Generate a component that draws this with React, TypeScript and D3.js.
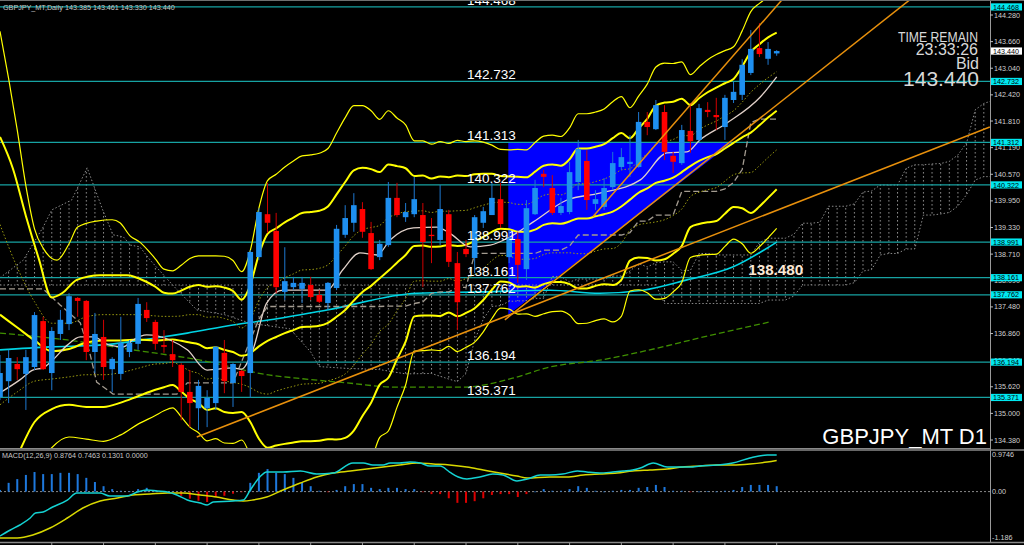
import React from 'react';
import * as d3 from 'd3';

type P = [number, number];
type C3 = [number, number, number];

// ---- Daily candles (GBPJPY_MT, D1) ----
const opens = [135.38,135.75,136.15,135.92,136.08,137.15,135.94,136.85,137.08,137.69,137.62,136.43,136.78,136.03,135.92,136.43,136.62,137.41,137.13,136.59,136.38,136.13,135.50,135.12,135.12,135.24,136.41,135.71,135.99,135.94,138.64,139.64,139.25,137.83,137.94,137.90,137.99,137.76,137.57,137.92,139.16,139.44,139.76,139.20,138.64,138.92,140.02,139.57,139.64,139.62,139.16,139.04,139.64,138.50,138.83,138.62,139.44,139.62,139.99,138.64,139.06,138.36,139.64,140.58,140.25,139.67,139.69,140.39,140.88,139.88,139.81,140.27,140.74,140.81,140.74,141.79,141.62,142.02,141.00,140.83,141.58,141.37,142.07,141.95,141.67,142.30,142.42,142.93,143.51,143.26,143.385];
const highs = [136.36,136.48,136.31,136.48,137.36,137.25,137.01,137.41,137.80,137.71,137.64,137.34,137.18,136.31,137.25,136.71,137.69,137.59,137.18,136.94,136.71,136.17,136.01,135.78,135.54,136.57,136.71,136.17,136.01,138.80,139.78,140.37,139.67,138.87,138.18,138.18,138.18,137.87,138.06,139.39,139.85,140.13,139.92,139.46,139.04,140.39,140.37,139.90,140.51,139.90,139.55,140.32,139.74,138.76,139.04,139.62,139.81,140.37,140.37,139.27,139.23,139.97,140.44,140.67,140.55,140.02,140.86,141.37,141.13,140.20,140.48,141.09,141.18,141.48,142.02,142.02,142.30,142.18,141.09,141.72,142.23,142.21,142.25,142.35,142.42,142.72,143.25,143.93,144.09,143.65,143.461];
const lows = [135.31,135.24,135.78,135.08,136.01,136.01,135.54,136.71,136.94,137.25,136.24,135.94,135.78,135.50,135.78,136.31,136.48,137.13,136.48,136.41,136.08,134.84,134.68,134.61,134.68,135.08,135.47,135.15,135.50,135.36,138.57,139.20,137.80,137.64,137.87,137.57,137.64,137.57,137.41,137.87,139.09,139.23,139.09,138.34,138.57,138.88,139.57,139.46,139.57,137.94,138.50,138.92,138.41,136.94,138.64,138.27,139.32,139.62,139.32,138.50,138.04,138.11,139.62,140.27,139.62,139.62,139.64,140.20,139.74,139.74,139.74,140.20,140.67,140.51,140.72,141.48,141.60,140.90,140.60,140.79,141.07,141.34,141.90,141.60,141.37,142.23,142.30,142.88,143.30,143.12,143.330];
const closes = [135.94,136.29,136.03,136.31,137.29,136.03,136.92,137.18,137.73,137.62,136.43,136.85,136.08,136.27,136.64,136.64,137.55,137.22,136.62,136.55,136.24,135.50,135.24,135.64,135.36,136.55,135.75,136.15,135.87,138.76,139.69,139.44,137.94,138.08,138.04,138.04,137.71,137.60,138.04,139.30,139.55,139.85,139.23,138.36,138.95,140.02,139.62,139.69,139.99,138.99,139.13,139.76,138.53,137.59,138.71,139.57,139.71,140.02,139.41,139.09,138.46,139.78,140.25,140.51,139.67,139.83,140.62,141.16,139.97,139.99,140.25,140.83,140.97,140.86,141.79,141.67,142.18,141.09,140.86,141.60,141.34,142.11,142.02,141.90,142.35,142.49,143.12,143.49,143.37,143.49,143.440];

// ---- Bollinger band lines as seen on the chart ----
// left part: [bar index, price]; from bar 19 on: one value per bar
const bbFrom = 19;
const bbMidL: P[] = [[0,137.3],[2,137.0],[4,136.7],[6,136.45],[8,136.5],[10,136.65],[12,136.7],[14,136.7],[16,136.72],[18,136.7]];
const bbMidR = [136.71,136.72,136.69,136.65,136.61,136.52,136.54,136.48,136.43,136.34,136.40,136.56,136.69,136.78,136.87,136.94,137.01,137.02,137.04,137.11,137.25,137.41,137.63,137.83,137.97,138.15,138.32,138.51,138.69,138.90,138.91,138.88,138.89,138.92,138.90,138.93,139.01,139.11,139.23,139.30,139.29,139.23,139.23,139.28,139.39,139.43,139.42,139.47,139.54,139.54,139.59,139.64,139.70,139.82,139.98,140.14,140.24,140.37,140.42,140.49,140.62,140.76,140.88,140.97,141.04,141.17,141.30,141.43,141.54,141.71,141.89,142.05];
const bbUp1L: P[] = [[0,139.4],[2,138.4],[4,137.6],[6,137.1],[8,137.1],[10,137.25],[12,137.3],[14,137.3],[16,137.3],[18,137.27]];
const bbUp1R = [137.26,137.26,137.27,137.30,137.30,137.24,137.25,137.21,137.14,136.99,137.19,137.63,137.93,138.04,138.16,138.25,138.34,138.35,138.38,138.46,138.67,138.90,139.14,139.28,139.33,139.38,139.56,139.64,139.70,139.71,139.72,139.68,139.71,139.71,139.72,139.73,139.79,139.85,139.90,139.92,139.91,139.87,139.87,139.96,140.08,140.11,140.09,140.19,140.35,140.35,140.40,140.46,140.55,140.67,140.70,140.89,141.05,141.27,141.33,141.38,141.47,141.47,141.61,141.72,141.81,141.93,142.05,142.25,142.48,142.66,142.82,142.96];
const bbUp2L: P[] = [[0,141.44],[1.5,140.7],[3,139.6],[4.5,138.6],[6,137.7],[7.2,137.8],[8.9,138.11],[11.6,138.22],[14.7,138.22],[17,138.06],[18,137.95]];
const bbUp2R = [137.81,137.79,137.86,137.95,137.99,137.95,137.96,137.93,137.85,137.65,137.99,138.70,139.18,139.31,139.45,139.56,139.67,139.69,139.72,139.82,140.10,140.39,140.66,140.72,140.69,140.62,140.80,140.76,140.71,140.53,140.54,140.47,140.52,140.50,140.54,140.53,140.57,140.58,140.58,140.53,140.52,140.51,140.50,140.63,140.77,140.80,140.77,140.92,141.17,141.17,141.21,141.27,141.41,141.53,141.41,141.64,141.86,142.17,142.24,142.26,142.33,142.18,142.34,142.48,142.59,142.69,142.79,143.08,143.42,143.60,143.76,143.87];
const bbUp3L: P[] = [[0,143.9],[1,142.8],[2,141.6],[3,140.3],[4,139.3],[5,138.85],[6.6,138.57],[8,138.95],[9,139.34],[11.2,139.48],[13,139.51],[13.9,139.44],[15.1,139.13],[16.2,138.99],[17.1,138.81],[18,138.6]];
const bbUp3R = [138.36,138.32,138.45,138.61,138.67,138.67,138.67,138.66,138.56,138.30,138.79,139.78,140.42,140.57,140.74,140.88,141.00,141.02,141.06,141.17,141.53,141.89,142.17,142.17,142.05,141.85,142.05,141.88,141.72,141.35,141.35,141.27,141.33,141.29,141.36,141.33,141.35,141.32,141.25,141.15,141.14,141.15,141.14,141.31,141.46,141.48,141.45,141.65,141.98,141.98,142.02,142.09,142.26,142.38,142.12,142.39,142.67,143.07,143.16,143.15,143.19,142.89,143.07,143.24,143.36,143.45,143.54,143.91,144.36,144.55,144.69,144.78];
const bbDn1L: P[] = [[0,135.2],[2,135.5],[4,135.75],[6,135.8],[8,135.85],[10,135.9],[12,135.9],[14,135.95],[16,136.05],[18,136.15]];
const bbDn1R = [136.16,136.19,136.10,135.99,135.93,135.80,135.83,135.76,135.72,135.68,135.60,135.49,135.45,135.52,135.58,135.63,135.68,135.69,135.70,135.76,135.82,135.92,136.12,136.38,136.61,136.91,137.08,137.39,137.68,138.08,138.09,138.08,138.08,138.14,138.08,138.14,138.23,138.37,138.56,138.68,138.67,138.59,138.59,138.61,138.70,138.74,138.74,138.74,138.72,138.72,138.78,138.83,138.84,138.97,139.27,139.39,139.43,139.46,139.51,139.61,139.76,140.05,140.15,140.21,140.26,140.41,140.56,140.60,140.61,140.77,140.96,141.14];
const bbDn2L: P[] = [[0,133.1],[2,134.0],[4,134.8],[6,135.1],[8,135.2],[10,135.15],[12,135.15],[14,135.25],[16,135.4],[18,135.55]];
const bbDn2R = [135.61,135.66,135.51,135.34,135.24,135.08,135.12,135.03,135.01,135.03,134.80,134.41,134.20,134.25,134.29,134.32,134.35,134.35,134.36,134.40,134.39,134.43,134.60,134.94,135.25,135.67,135.83,136.26,136.67,137.26,137.28,137.28,137.27,137.35,137.26,137.34,137.45,137.64,137.88,138.07,138.05,137.95,137.96,137.93,138.01,138.06,138.06,138.01,137.91,137.91,137.97,138.01,137.99,138.11,138.56,138.63,138.62,138.56,138.59,138.72,138.90,139.34,139.41,139.45,139.48,139.65,139.81,139.78,139.67,139.82,140.02,140.22];
const bbDn3L: P[] = [[0,131.0],[2,132.4],[4,133.6],[6,134.2],[8,134.45],[10,134.4],[12,134.35],[14,134.5],[16,134.75],[18,134.95]];
const bbDn3R = [135.06,135.13,134.92,134.68,134.55,134.36,134.41,134.31,134.30,134.38,134.00,133.34,132.96,132.99,133.01,133.01,133.02,133.02,133.02,133.05,132.97,132.94,133.09,133.49,133.89,134.44,134.59,135.14,135.66,136.45,136.46,136.48,136.46,136.56,136.44,136.54,136.66,136.90,137.21,137.45,137.43,137.31,137.32,137.26,137.32,137.37,137.38,137.29,137.09,137.10,137.16,137.20,137.13,137.26,137.85,137.88,137.81,137.66,137.68,137.83,138.05,138.63,138.68,138.70,138.71,138.89,139.06,138.95,138.73,138.88,139.09,139.31];

// ---- Other indicator lines: [bar index, price] ----
const sma9: P[] = [[0,135.48],[2.3,135.78],[3.8,136.01],[5,136.06],[6.1,136.24],[7.8,136.59],[9.3,136.78],[10.8,136.78],[12.7,136.59],[14.3,136.55],[15.4,136.71],[17,136.83],[19.7,136.71],[21.7,136.48],[24,136.01],[27,136.06],[28,136.03],[29.3,136.48],[30.9,137.57],[32.8,137.87],[37.9,137.87],[39.7,138.34],[41.7,138.74],[43.7,138.69],[45.2,139.04],[47.9,139.32],[50.6,139.34],[52.1,139.2],[54.5,138.88],[56.8,138.92],[59.1,139.11],[61.8,139.46],[65.7,139.97],[69.5,140.13],[74.2,140.44],[77.3,141.07],[79.6,141.09],[81.1,141.37],[84.2,141.76],[88.1,142.37],[90,142.84]];
const kijun: P[] = [[0,137.9],[5,137.9],[7,137.52],[9.3,137.11],[10.4,136.41],[11.2,135.73],[13.1,135.45],[20.5,135.45],[21.7,135.71],[27,135.71],[28,136.205],[29,136.705],[30,137.195],[31,137.49],[44,137.49],[45,137.50],[47,137.50],[48,137.56],[49,137.595],[50,137.795],[51,137.83],[52,137.83],[53,137.935],[54,137.935],[55,138.725],[62,138.725],[63,138.805],[65,138.805],[66,138.90],[67,139.155],[72,139.155],[73,139.21],[74,139.48],[75,139.48],[76,139.62],[78,139.62],[79,140.17],[83,140.17],[84,140.23],[85,140.38],[86,140.68],[87,141.775],[88,141.855],[90,141.855]];
const cyanMA: P[] = [[0,136.48],[5.8,136.55],[11.6,136.59],[18.2,136.76],[21.7,136.87],[27,137.06],[31.3,137.18],[37.9,137.41],[48.3,137.8],[56,137.83],[63.7,137.87],[69.5,137.8],[74.5,137.87],[79.6,138.11],[84.9,138.41],[90,138.99]];
const greenMA: P[] = [[0,136.87],[7.8,136.71],[15.4,136.48],[23.2,136.24],[31.3,135.89],[34.4,135.82],[40.2,135.71],[46,135.61],[53.7,135.61],[59.4,135.82],[63.7,136.08],[69.5,136.24],[75.3,136.48],[81.1,136.76],[89.2,137.13]];
// Ichimoku cloud: [bar index, span A, span B]
const cloud: C3[] = [[0,138.16,137.99],[2.7,138.57,137.99],[5,139.34,137.99],[6,139.74,137.99],[8.3,139.97,137.99],[10.1,140.72,137.99],[11.9,139.74,137.99],[13.1,139.16,137.99],[14.3,139.11,137.99],[15.1,138.92,137.99],[16.2,138.88,137.99],[17.4,138.57,137.99],[20,137.99,137.99],[22.8,137.41,137.99],[26,137.3,137.99],[29,137.1,137.99],[33.6,136.97,137.99],[36,136.43,137.99],[37,136.09,137.99],[40,136.05,137.99],[44,136.02,137.99],[47,135.92,137.99],[50,135.93,137.99],[52,135.80,137.99],[53,135.74,137.99],[54,135.93,137.99],[55,136.705,137.99],[56,137.195,137.99],[57,137.49,137.99],[58,137.51,137.99],[59,137.61,137.99],[61,137.625,137.99],[62,137.68,137.99],[63,137.68,137.99],[64,138.19,137.99],[65,138.19,137.99],[66,138.06,137.99],[67,138.13,137.99],[70,138.13,137.99],[71,138.20,137.99],[72,138.20,137.99],[73,138.315,137.99],[74,138.49,137.99],[75,138.41,137.99],[76,138.51,137.99],[77,138.53,137.56],[78,138.53,137.56],[79,138.33,137.56],[80,138.33,137.56],[81,138.725,137.56],[82,138.725,137.56],[83,138.69,137.56],[87,138.69,137.56],[88,138.98,137.56],[89,139.08,137.64],[91,139.08,137.64],[92,139.175,137.735],[93,139.43,137.99],[94,139.43,137.99],[95,139.45,137.99],[96,139.825,137.99],[98,139.825,137.99],[99,139.88,138.045],[100,140.155,138.315],[101,140.18,138.35],[102,140.32,138.69],[103,140.32,138.725],[104,140.32,138.725],[105,140.71,138.83],[106,140.79,138.83],[107,140.79,139.62],[108,140.81,139.62],[109,140.82,139.645],[110,140.87,139.68],[111,141.02,139.83],[112,141.30,140.095],[113,142.07,140.435],[114,142.22,140.515],[115,142.285,140.515],[116,142.29,140.515]];

// ---- MACD(12,26,9) ----
const macdMain: P[] = [[0,-1.066],[1.2,-0.922],[2.3,-0.802],[3.5,-0.634],[4.1,-0.514],[5,-0.49],[6.1,-0.37],[7.8,-0.202],[8.9,-0.034],[11.6,-0.034],[12.7,-0.106],[14.7,-0.106],[15.9,-0.01],[17,0.038],[18.2,0.014],[19.4,-0.01],[20.5,-0.082],[21.7,-0.202],[23.2,-0.274],[24,-0.322],[24.7,-0.25],[27,-0.226],[28.2,-0.202],[29,0.038],[30.1,0.35],[30.9,0.47],[32.8,0.47],[34.8,0.494],[36.7,0.422],[38.6,0.446],[40.9,0.686],[42.1,0.686],[43.2,0.638],[44.4,0.638],[45.2,0.686],[46.3,0.686],[47.5,0.71],[48.7,0.686],[49.8,0.614],[51,0.614],[52.1,0.47],[53.1,0.35],[54.1,0.302],[55.6,0.35],[57.1,0.422],[58.3,0.398],[59.9,0.254],[61.1,0.302],[62.6,0.398],[63.7,0.398],[65.2,0.422],[66.9,0.494],[68,0.47],[69.5,0.446],[71,0.47],[72.2,0.494],[73.3,0.518],[74.2,0.566],[75.7,0.686],[77.3,0.59],[78.4,0.59],[80,0.59],[81.1,0.614],[83.1,0.638],[84.9,0.686],[86.9,0.806],[88.9,0.878],[90,0.876]];
const macdSignal: P[] = [[0,-1.114],[2,-1.114],[3.8,-1.042],[5.8,-0.874],[7.8,-0.634],[9.6,-0.394],[11.6,-0.226],[13.6,-0.154],[15.4,-0.082],[17.4,-0.058],[19.4,-0.034],[21.2,-0.034],[23.2,-0.082],[25.1,-0.13],[27,-0.202],[28.2,-0.226],[29.3,-0.202],[30.9,-0.13],[32.8,0.038],[34.8,0.206],[36.7,0.35],[38.6,0.446],[40.6,0.494],[42.5,0.542],[44.4,0.59],[46.3,0.638],[48.3,0.686],[50.2,0.662],[52.1,0.638],[54.1,0.59],[56,0.518],[57.9,0.446],[59.9,0.374],[61.1,0.326],[63.7,0.35],[65.7,0.35],[67.6,0.398],[69.5,0.422],[71.5,0.446],[73.3,0.494],[75.3,0.518],[77.3,0.542],[79.1,0.59],[81.1,0.614],[83.1,0.638],[84.9,0.638],[86.9,0.662],[88.9,0.71],[90,0.746]];
const macdHist = [0.04,0.21,0.30,0.40,0.47,0.42,0.42,0.45,0.45,0.42,0.33,0.23,0.13,0.06,0.02,0.01,0.06,0.09,0.04,0.0,0.0,-0.10,-0.17,-0.22,-0.25,-0.13,-0.10,-0.05,-0.01,0.21,0.45,0.54,0.45,0.42,0.33,0.23,0.13,0.02,-0.01,0.04,0.13,0.18,0.18,0.09,0.06,0.09,0.09,0.06,0.06,-0.01,-0.06,-0.06,-0.16,-0.27,-0.27,-0.23,-0.16,-0.08,-0.06,-0.06,-0.13,-0.06,0.0,0.06,0.02,0.02,0.06,0.13,0.09,0.02,0.0,0.02,0.04,0.04,0.09,0.11,0.16,0.11,0.02,0.02,-0.01,0.0,0.01,0.0,0.02,0.04,0.11,0.16,0.16,0.16,0.13];

// ---- Drawn objects ----
const hLevels = [144.468, 142.732, 141.312, 140.322, 138.991, 138.161, 137.762, 136.194, 135.371];
const hLabels = ['144.468', '142.732', '141.313', '140.322', '138.991', '138.161', '137.762', '136.194', '135.371'];
const axisTicks = ['144.280','143.660','143.040','142.420','141.810','141.190','140.570','139.950','139.330','138.710','138.090','137.480','136.860','136.240','135.620','135.000','134.380'];
const trendLines: [P, P][] = [
  [[22.8, 134.45], [114.7, 141.67]],
  [[58.5, 137.18], [105.4, 144.63]],
  [[68.7, 139.58], [90.6, 144.63]],
];
const triangle: P[] = [[58.9, 141.312], [84.9, 141.312], [58.9, 137.30]];
const bidPrice = 143.440;
const maLabel = '138.480';
const maLabelAt: P = [86.7, 138.34];
const macdTicks = ['0.9746', '0.00', '-1.186'];
const macdTickVals = [0.9746, 0, -1.186];

const join = (L: P[], R: number[]): P[] => [...L, ...R.map((v, k) => [bbFrom + k, v] as P)];

export default function App() {
  const W = 1024, H = 545, R = 990;
  const x = d3.scaleLinear().domain([0, 90]).range([0, 776.7]);
  const y = d3.scaleLinear().domain([134.38, 144.28]).range([440, 15]);
  const ym = d3.scaleLinear().domain([-1.186, 0.9746]).range([541, 451]);
  const path = (pts: P[], curve: any = d3.curveMonotoneX) =>
    d3.line<P>().x(d => x(d[0])).y(d => y(d[1])).curve(curve)(pts) || '';
  const mpath = (pts: P[]) =>
    d3.line<P>().x(d => x(d[0])).y(d => ym(d[1])).curve(d3.curveMonotoneX)(pts) || '';
  const cloudArea = d3.area<C3>().x(d => x(d[0])).y0(d => y(d[1])).y1(d => y(d[2])).curve(d3.curveLinear)(cloud) || '';
  const spanA = path(cloud.map(d => [d[0], d[1]] as P), d3.curveLinear);
  const spanB = path(cloud.map(d => [d[0], d[2]] as P), d3.curveLinear);
  const step = x(1) - x(0);
  const bw = 5.6;
  const font = 'Liberation Sans, Arial, sans-serif';
  const sm = 7.2;

  const lines = {
    mid: join(bbMidL, bbMidR), up1: join(bbUp1L, bbUp1R), dn1: join(bbDn1L, bbDn1R),
    up2: join(bbUp2L, bbUp2R), dn2: join(bbDn2L, bbDn2R), up3: join(bbUp3L, bbUp3R), dn3: join(bbDn3L, bbDn3R),
  };

  return (
    <svg width={W} height={H} style={{ position: 'fixed', left: 0, top: 0, background: '#000' }}>
      <defs>
        <clipPath id="mainclip"><rect x={0} y={1} width={R} height={447} /></clipPath>
        <clipPath id="macdclip"><rect x={0} y={451} width={R} height={91} /></clipPath>
        <pattern id="hatch" patternUnits="userSpaceOnUse" width={step} height={4} x={-0.5} y={0}>
          <rect x={0} y={0} width={1} height={1.6} fill="#8a8a8a" />
        </pattern>
      </defs>
      <rect x={0} y={0} width={W} height={H} fill="#000" />

      <g clipPath="url(#mainclip)">
        <polygon points={triangle.map(d => `${x(d[0])},${y(d[1])}`).join(' ')} fill="#0000ff" />
        <path d={cloudArea} fill="url(#hatch)" />
        <path d={spanA} fill="none" stroke="#8a8a8a" strokeWidth={1} strokeDasharray="1.5,2" />
        <path d={spanB} fill="none" stroke="#8a8a8a" strokeWidth={1} strokeDasharray="1.5,2" />
        {hLevels.map((v, i) => (
          <line key={'h' + i} x1={0} x2={R} y1={y(v)} y2={y(v)} stroke="#17a2a2" strokeWidth={1.3} />
        ))}
        <path d={path(greenMA)} fill="none" stroke="#3f8f00" strokeWidth={1.3} strokeDasharray="6,3" />
        <path d={path(cyanMA)} fill="none" stroke="#00d4e4" strokeWidth={1.6} />
        <path d={path(kijun, d3.curveLinear)} fill="none" stroke="#a39b90" strokeWidth={1.3} strokeDasharray="6,3" />
        <path d={path(lines.up1)} fill="none" stroke="#9a9a10" strokeWidth={1} strokeDasharray="1.5,2" />
        <path d={path(lines.dn1)} fill="none" stroke="#9a9a10" strokeWidth={1} strokeDasharray="1.5,2" />
        <path d={path(lines.up3)} fill="none" stroke="#ffff00" strokeWidth={1.2} />
        <path d={path(lines.dn3)} fill="none" stroke="#ffff00" strokeWidth={1.2} />
        <path d={path(lines.up2)} fill="none" stroke="#ffff00" strokeWidth={2} />
        <path d={path(lines.dn2)} fill="none" stroke="#ffff00" strokeWidth={2} />
        <path d={path(lines.mid)} fill="none" stroke="#ffff00" strokeWidth={2} />
        <path d={path(sma9)} fill="none" stroke="#e0d0c8" strokeWidth={1.3} />
        {opens.map((o, i) => {
          const c = closes[i];
          const up = c >= o;
          const col = up ? '#1e8ff0' : '#ff0000';
          const cx = x(i);
          const top = y(Math.max(o, c));
          const bot = y(Math.min(o, c));
          return (
            <g key={'c' + i}>
              <line x1={cx} x2={cx} y1={y(highs[i])} y2={y(lows[i])} stroke={up ? '#1e78d0' : '#d00000'} strokeWidth={1} />
              <rect x={cx - bw / 2} y={top} width={bw} height={Math.max(1, bot - top)} fill={col} />
            </g>
          );
        })}
        {trendLines.map((t, i) => (
          <line key={'t' + i} x1={x(t[0][0])} y1={y(t[0][1])} x2={x(t[1][0])} y2={y(t[1][1])} stroke="#e8900c" strokeWidth={1.5} />
        ))}
        {hLevels.map((v, i) => (
          <text key={'hl' + i} x={467} y={y(v) - 2} fill="#ffffff" fontFamily={font} fontSize={13.5}>{hLabels[i]}</text>
        ))}
        <text x={x(maLabelAt[0])} y={y(maLabelAt[1]) + 5} fill="#fde8d4" fontFamily={font} fontSize={15.5} fontWeight="bold" textLength={55} lengthAdjust="spacingAndGlyphs">{maLabel}</text>
        <text x={898} y={42} fill="#d8d8d8" fontFamily={font} fontSize={15.5} textLength={80} lengthAdjust="spacingAndGlyphs">TIME REMAIN</text>
        <text x={978} y={55} fill="#d8d8d8" fontFamily={font} fontSize={16} textAnchor="end">23:33:26</text>
        <text x={979} y={68.5} fill="#d8d8d8" fontFamily={font} fontSize={16} textAnchor="end">Bid</text>
        <text x={979} y={86} fill="#d8d8d8" fontFamily={font} fontSize={21} textAnchor="end">{bidPrice.toFixed(3)}</text>
        <text x={3} y={9.5} fill="#c8c8c8" fontFamily={font} fontSize={sm}>{'GBPJPY_MT,Daily  ' + [opens[90], highs[90], lows[90], closes[90]].map(v => v.toFixed(3)).join(' ')}</text>
      </g>
      <text x={987} y={444} fill="#ffffff" fontFamily={font} fontSize={22} textAnchor="end">GBPJPY_MT D1</text>

      {/* right price axis */}
      <line x1={R + 0.5} x2={R + 0.5} y1={0} y2={543} stroke="#9a9a9a" strokeWidth={1} />
      <line x1={0} x2={W} y1={0.5} y2={0.5} stroke="#707070" strokeWidth={1} />
      {axisTicks.map((t, i) => (
        <g key={'at' + i}>
          <line x1={R} x2={R + 3} y1={y(+t)} y2={y(+t)} stroke="#bbb" />
          <text x={R + 4} y={y(+t) + 2.5} fill="#d0d0d0" fontFamily={font} fontSize={sm}>{t}</text>
        </g>
      ))}
      {hLevels.map((v, i) => (
        <g key={'tag' + i}>
          <rect x={R + 1} y={y(v) - 3.6} width={31} height={7.2} fill="#00e8f0" />
          <text x={R + 3} y={y(v) + 2.6} fill="#000" fontFamily={font} fontSize={sm}>{v.toFixed(3)}</text>
        </g>
      ))}
      <rect x={R + 1} y={y(bidPrice) - 3.6} width={31} height={7.2} fill="#ffffff" />
      <text x={R + 3} y={y(bidPrice) + 2.6} fill="#000" fontFamily={font} fontSize={sm}>{bidPrice.toFixed(3)}</text>

      {/* pane separator */}
      <line x1={0} x2={R} y1={448.5} y2={448.5} stroke="#8a8a8a" strokeWidth={1} />
      <line x1={0} x2={W} y1={450} y2={450} stroke="#8a8a8a" strokeWidth={1.5} />
      <line x1={0} x2={W} y1={542.5} y2={542.5} stroke="#8a8a8a" strokeWidth={1.5} />

      {/* MACD pane */}
      <g clipPath="url(#macdclip)">
        <line x1={0} x2={R} y1={ym(0)} y2={ym(0)} stroke="#8a8a8a" strokeWidth={1} strokeDasharray="2,2" />
        {macdHist.map((v, i) => (
          <rect key={'mh' + i} x={x(i) - 1} y={Math.min(ym(0), ym(v))} width={2} height={Math.max(0.6, Math.abs(ym(v) - ym(0)))} fill={v >= 0 ? '#1e78dc' : '#dd0000'} />
        ))}
        <path d={mpath(macdSignal)} fill="none" stroke="#d8d800" strokeWidth={1.5} />
        <path d={mpath(macdMain)} fill="none" stroke="#14d2d2" strokeWidth={1.5} />
      </g>
      <text x={2} y={458} fill="#c8c8c8" fontFamily={font} fontSize={sm}>MACD(12,26,9) 0.8764 0.7463 0.1301 0.0000</text>
      {macdTicks.map((t, i) => (
        <text key={'mt' + i} x={R + 2} y={ym(macdTickVals[i]) + (i === 0 ? 6 : i === 2 ? -1 : 2.5)} fill="#d0d0d0" fontFamily={font} fontSize={sm}>{t}</text>
      ))}
      {d3.range(6, 91, 6).map(i => (
        <line key={'tk' + i} x1={x(i)} x2={x(i)} y1={543} y2={545} stroke="#9a9a9a" />
      ))}
    </svg>
  );
}
